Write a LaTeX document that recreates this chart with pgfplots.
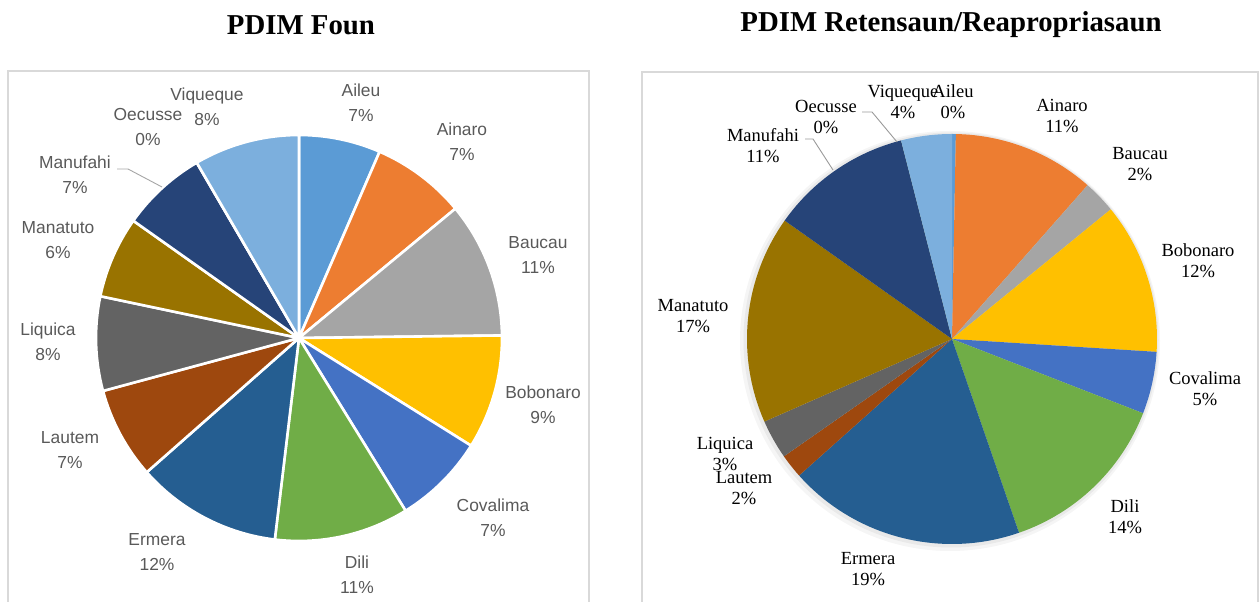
\documentclass[border=0pt]{standalone}
\usepackage{pgfplots}
\pgfplotsset{compat=1.18}
\usepackage{pgfplotstable}
\usepackage{fontspec}
\setmainfont{Liberation Serif}
\newfontfamily\lsans{Liberation Sans}
\newfontfamily\lserif{Liberation Serif}

\definecolor{cAileu}{HTML}{5B9BD5}
\definecolor{cAinaro}{HTML}{ED7D31}
\definecolor{cBaucau}{HTML}{A5A5A5}
\definecolor{cBobonaro}{HTML}{FFC000}
\definecolor{cCovalima}{HTML}{4472C4}
\definecolor{cDili}{HTML}{70AD47}
\definecolor{cErmera}{HTML}{255E91}
\definecolor{cLautem}{HTML}{9E480E}
\definecolor{cLiquica}{HTML}{636363}
\definecolor{cManatuto}{HTML}{997300}
\definecolor{cManufahi}{HTML}{264478}
\definecolor{cOecusse}{HTML}{43682B}
\definecolor{cViqueque}{HTML}{7CAFDD}
\definecolor{lbl}{HTML}{595959}
\definecolor{boxc}{HTML}{D9D9D9}

% share of each municipality (percent), clockwise from 12 o'clock
\pgfplotstableread{
name     value col
Aileu     6.5  cAileu
Ainaro    7.5  cAinaro
Baucau   10.8  cBaucau
Bobonaro  9.1  cBobonaro
Covalima  7.3  cCovalima
Dili     10.7  cDili
Ermera   11.6  cErmera
Lautem    7.3  cLautem
Liquica   7.5  cLiquica
Manatuto  6.5  cManatuto
Manufahi  6.8  cManufahi
Oecusse   0.0  cOecusse
Viqueque  8.4  cViqueque
}\foun

\pgfplotstableread{
name     value col
Aileu     0.3  cAileu
Ainaro   11.2  cAinaro
Baucau    2.6  cBaucau
Bobonaro 11.9  cBobonaro
Covalima  4.9  cCovalima
Dili     13.8  cDili
Ermera   18.7  cErmera
Lautem    1.9  cLautem
Liquica   3.1  cLiquica
Manatuto 16.4  cManatuto
Manufahi 11.2  cManufahi
Oecusse   0.0  cOecusse
Viqueque  4.0  cViqueque
}\retensaun

% #1 table, #2 cx, #3 cy, #4 radius, #5 extra style
\newcommand\drawpie[5]{%
  \pgfplotstablegetrowsof{#1}%
  \pgfmathtruncatemacro\N{\pgfplotsretval-1}%
  \gdef\cum{90}%
  \foreach \i in {0,...,\N}{%
    \pgfplotstablegetelem{\i}{value}\of{#1}\let\v\pgfplotsretval
    \pgfplotstablegetelem{\i}{col}\of{#1}\let\c\pgfplotsretval
    \pgfmathsetmacro\b{\cum-3.6*\v}%
    \edef\temp{\noexpand\fill[\c,#5] (axis cs:#2,#3) -- ++(\cum:#4pt) arc[start angle=\cum, end angle=\b, radius=#4pt] -- cycle;}%
    \temp
    \xdef\cum{\b}%
  }%
}

\tikzset{
  lL/.style={font=\lsans\fontsize{17.4}{25}\selectfont, text=lbl, align=center, inner sep=0pt},
  lR/.style={font=\lserif\fontsize{18.5}{21}\selectfont, text=black, align=center, inner sep=0pt},
}

\begin{document}
\begin{tikzpicture}
\begin{axis}[at={(0,0)}, anchor=south west, scale only axis,
  width=1259pt, height=602pt, xmin=0, xmax=1259, ymin=0, ymax=602,
  hide axis, clip=true]

% full canvas
\path (axis cs:0,0) rectangle (axis cs:1259,602);

% frames
\draw[boxc, line width=1.3pt] (axis cs:8,0) -- (axis cs:8,531) -- (axis cs:589,531) -- (axis cs:589,0);
\draw[boxc, line width=1.3pt] (axis cs:642,0) -- (axis cs:642,530) -- (axis cs:1258,530) -- (axis cs:1258,0);

% titles
\node[font=\lserif\bfseries\fontsize{28.8}{32}\selectfont] at (axis cs:301,577) {PDIM Foun};
\node[font=\lserif\bfseries\fontsize{28.8}{32}\selectfont] at (axis cs:951,577) {PDIM Retensaun/Reapropriasaun};

% left pie
\drawpie{\foun}{299}{264}{203}{draw=white, line width=2.6pt, line join=round}

% right pie shadow
\fill[black, opacity=0.04] (axis cs:950,261) circle[radius=210pt];
\fill[black, opacity=0.05] (axis cs:951,262) circle[radius=207.5pt];
\drawpie{\retensaun}{952}{263}{205}{}

% left labels
\node[lL] at (axis cs:361,499) {Aileu\\7\%};
\node[lL] at (axis cs:462,460) {Ainaro\\7\%};
\node[lL] at (axis cs:538,347) {Baucau\\11\%};
\node[lL] at (axis cs:543,197) {Bobonaro\\9\%};
\node[lL] at (axis cs:493,84) {Covalima\\7\%};
\node[lL] at (axis cs:357,27) {Dili\\11\%};
\node[lL] at (axis cs:157,50) {Ermera\\12\%};
\node[lL] at (axis cs:70,152) {Lautem\\7\%};
\node[lL] at (axis cs:48,260) {Liquica\\8\%};
\node[lL] at (axis cs:58,362) {Manatuto\\6\%};
\node[lL] at (axis cs:75,427) {Manufahi\\7\%};
\node[lL] at (axis cs:148,475) {Oecusse\\0\%};
\node[lL] at (axis cs:207,495) {Viqueque\\8\%};
\draw[gray!70, line width=0.9pt] (axis cs:117,433) -- (axis cs:128,433) -- (axis cs:162,415);

% right labels
\node[lR] at (axis cs:903,500) {Viqueque\\4\%};
\node[lR] at (axis cs:953,500) {Aileu\\0\%};
\node[lR] at (axis cs:826,485) {Oecusse\\0\%};
\node[lR] at (axis cs:763,456) {Manufahi\\11\%};
\node[lR] at (axis cs:1062,486) {Ainaro\\11\%};
\node[lR] at (axis cs:1140,438) {Baucau\\2\%};
\node[lR] at (axis cs:1198,341) {Bobonaro\\12\%};
\node[lR] at (axis cs:1205,213) {Covalima\\5\%};
\node[lR] at (axis cs:1125,85) {Dili\\14\%};
\node[lR] at (axis cs:868,33) {Ermera\\19\%};
\node[lR] at (axis cs:725,148) {Liquica\\3\%};
\node[lR] at (axis cs:744,114) {Lautem\\2\%};
\node[lR] at (axis cs:693,286) {Manatuto\\17\%};
\draw[gray!80, line width=0.9pt] (axis cs:862,490) -- (axis cs:872,490) -- (axis cs:897,460);
\draw[gray!80, line width=0.9pt] (axis cs:805,463) -- (axis cs:813,463) -- (axis cs:833,432);

\end{axis}
\end{tikzpicture}
\end{document}
